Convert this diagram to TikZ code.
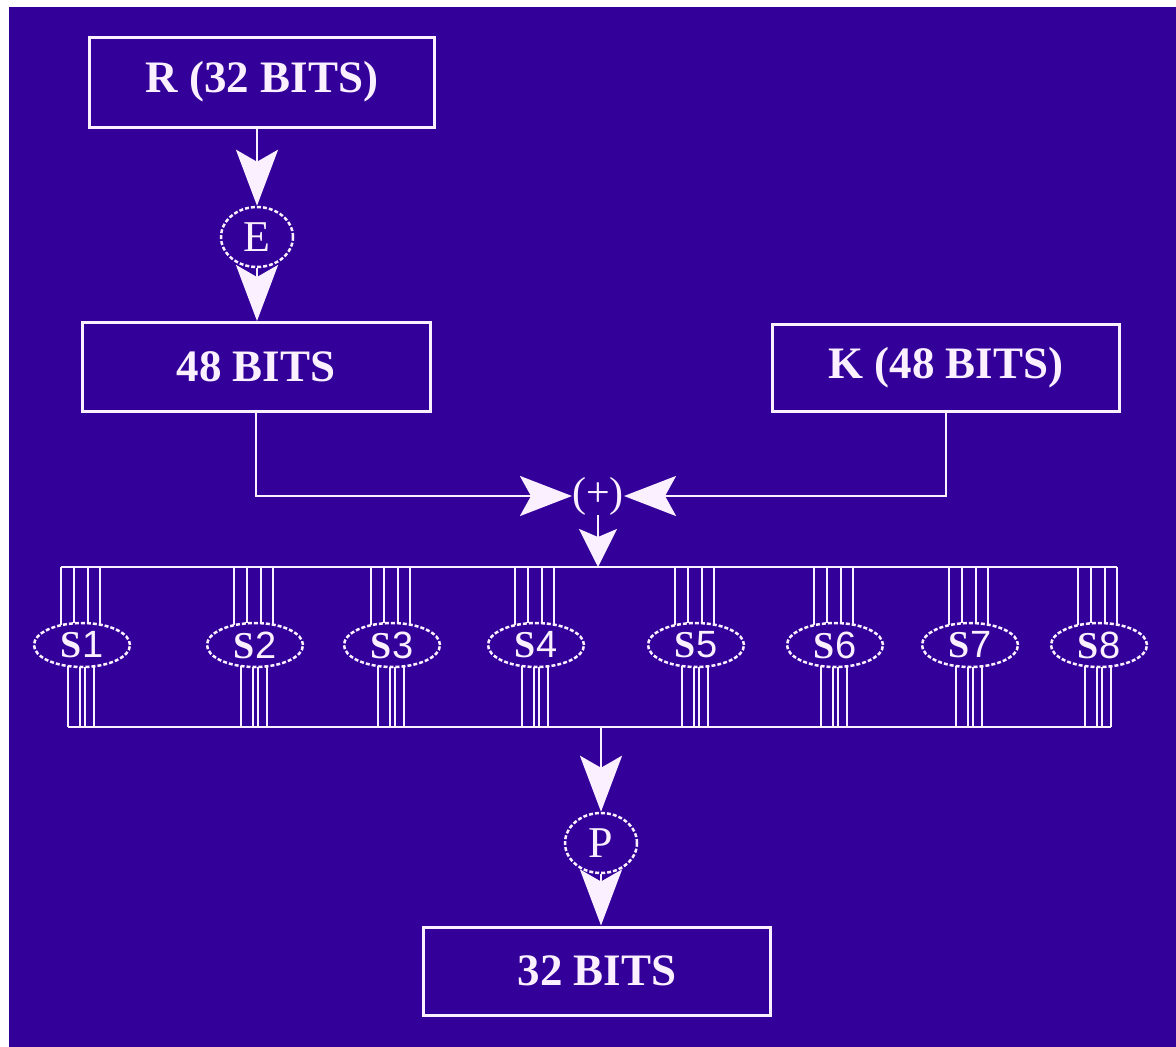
\documentclass[tikz,border=0pt]{standalone}
\usepackage{fontspec}
\setmainfont{Liberation Serif}
\newfontfamily\digitfont{Liberation Sans}
\usetikzlibrary{arrows.meta,shapes.geometric}
\definecolor{bg}{RGB}{51,0,153}
\definecolor{fg}{RGB}{250,240,255}
\begin{document}
\begin{tikzpicture}[x=1pt,y=-1pt,
  line/.style={draw=fg, line width=2.8pt},
  thin/.style={draw=fg, line width=2.4pt},
  bitbox/.style={rectangle, draw=fg, line width=3pt, text=fg, inner sep=0,
    font=\bfseries\fontsize{45}{45}\selectfont},
  op/.style={ellipse, draw=fg, line width=2.5pt, dash pattern=on 4pt off 2pt,
    text=fg, minimum width=72pt, minimum height=60pt, inner sep=0,
    font=\fontsize{44}{44}\selectfont},
  sbox/.style={ellipse, draw=fg, line width=2.5pt, dash pattern=on 4pt off 2pt,
    text=fg, minimum width=96pt, minimum height=44pt, inner sep=0,
    font=\fontsize{38}{38}\selectfont},
  bigarrow/.style={-{Stealth[length=56pt,width=42pt,inset=12pt]}},
  midarrow/.style={-{Stealth[length=52pt,width=40pt,inset=11pt]}},
  smallarrow/.style={-{Stealth[length=38pt,width=38pt,inset=8pt]}}
]
% background
\fill[white] (0,0) rectangle (1176,1047);
\fill[bg] (9,7) rectangle (1176,1047);

% boxes
\node[bitbox, minimum width=345pt, minimum height=90pt] (R) at (262,82) {R (32 BITS)};
\node[bitbox, minimum width=348pt, minimum height=89pt] (B48) at (256,367) {48 BITS};
\node[bitbox, minimum width=347pt, minimum height=87pt] (K) at (946,368) {K (48 BITS)};
\node[bitbox, minimum width=347pt, minimum height=88pt] (B32) at (597,971) {32 BITS};

% operations
\node[op] (E) at (257,237) {E};
\node[op] (P) at (601,843) {P};
\node[text=fg, inner sep=0, font=\fontsize{42}{42}\selectfont] (plus) at (598,496) {(+)};

% bars
\coordinate (tl) at (61,567);
\coordinate (tr) at (1117,567);
\coordinate (bl) at (68,727);
\coordinate (br) at (1111,727);
\coordinate (bm) at (601,727);
\draw[line] (tl) -- (tr);
\draw[line] (bl) -- (br);

% S boxes
\foreach \i/\cx in {1/82,2/255,3/392,4/536,5/696,6/835,7/970,8/1099} {
  \node[sbox] (s\i) at (\cx,645) {{\bfseries S}{\digitfont\i}};
  \foreach \d in {-21,-8,6,18} {
    \pgfmathsetmacro\yt{645-22*sqrt(1-(\d/48)^2)}
    \draw[thin] (\cx+\d,567) -- (\cx+\d,\yt);
  }
  \foreach \d in {-14,-2,3,12} {
    \pgfmathsetmacro\yb{645+22*sqrt(1-(\d/48)^2)}
    \draw[thin] (\cx+\d,\yb) -- (\cx+\d,727);
  }
}

% connectors
\draw[line, bigarrow] (E |- R.south) -- (E.north);
\draw[line, bigarrow] (E.south) -- (E |- B48.north);
\draw[line, midarrow] (B48.south) -- (B48.south |- plus.west) -- (plus.west);
\draw[line, midarrow] (K.south) -- (K.south |- plus.east) -- (plus.east);
\draw[line, smallarrow] (plus.south) -- (plus.south |- tl);
\draw[line, bigarrow] (bm) -- (P.north);
\draw[line, bigarrow] (P.south) -- (P |- B32.north);
\end{tikzpicture}
\end{document}
